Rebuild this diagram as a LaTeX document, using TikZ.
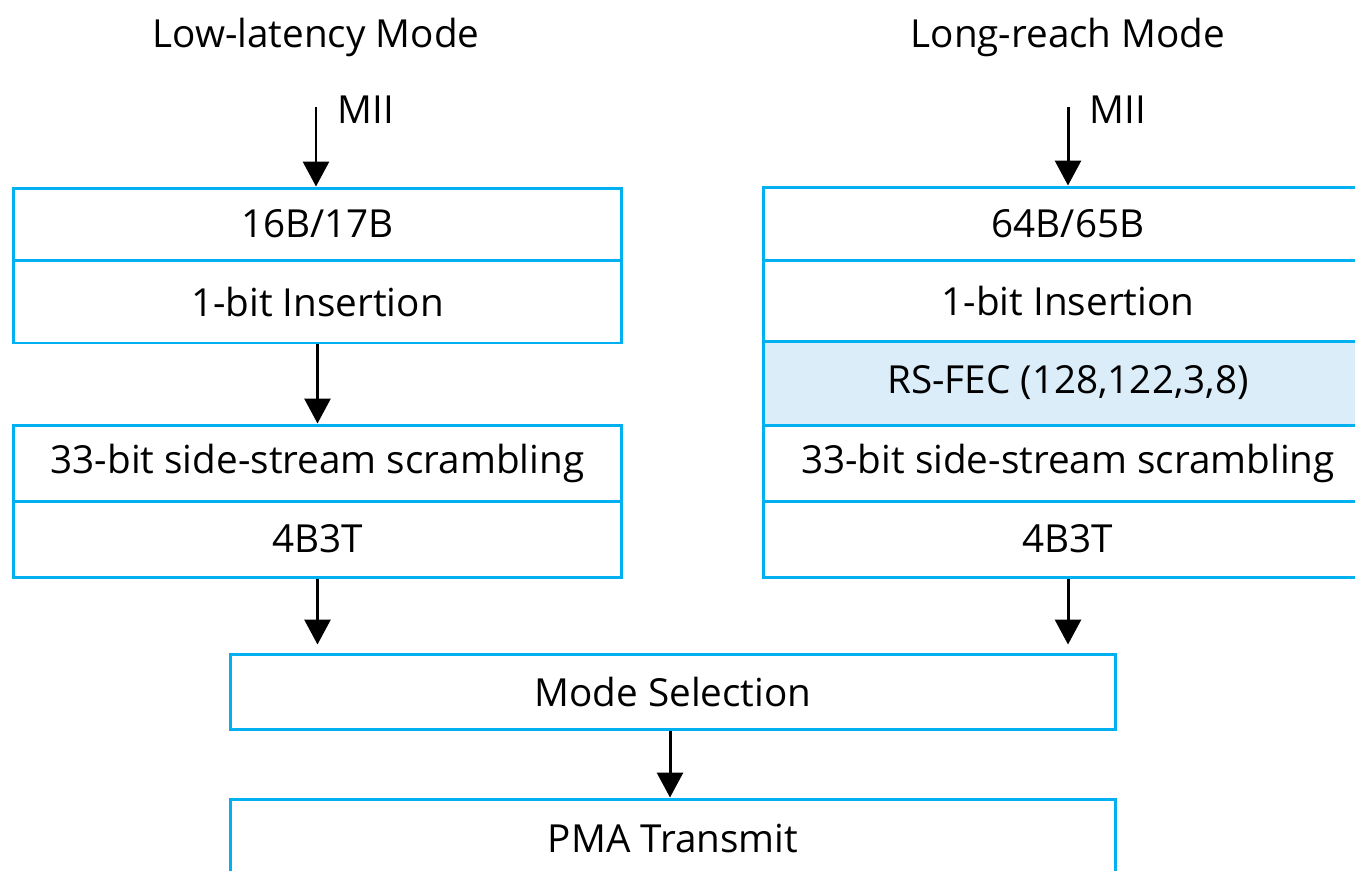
\documentclass[tikz,border=0pt]{standalone}
\usepackage{fontspec}
\setmainfont{Open Sans}
\usetikzlibrary{arrows.meta, positioning}
\definecolor{blkline}{HTML}{00B0F0}
\definecolor{fecfill}{HTML}{DAEDF8}
\tikzset{blk/.style={rectangle, draw=blkline, line width=1.7pt, inner sep=0pt, minimum width=12.18cm}}
\tikzset{lbl/.style={inner sep=0pt}}

\begin{document}
\begin{tikzpicture}[x=0.02cm, y=-0.02cm, >={Triangle[width=0.52cm, length=0.5cm]},
    font=\fontsize{22}{26}\selectfont]
    \useasboundingbox (0, 0) rectangle (1355, 870);
    \clip (0, 0) rectangle (1355, 870);

    % titles
    \node[lbl, anchor=base] (ltitle) at (316, 47) {Low-latency Mode};
    \node[lbl, anchor=base] (rtitle) at (1068, 47) {Long-reach Mode};

    % low-latency column
    \coordinate (lmii) at (316, 107);
    \node[lbl, anchor=base west] (lmiitxt) at (337, 123) {MII};
    \node[blk, minimum height=1.44cm] (lenc) at (317.5, 224) {16B/17B};
    \node[blk, minimum height=1.66cm] (lins) at (317.5, 301.5) {1-bit Insertion};
    \node[blk, minimum height=1.52cm] (lscr) at (317.5, 463) {33-bit side-stream scrambling};
    \node[blk, minimum height=1.52cm] (l4b) at (317.5, 539) {4B3T};

    % long-reach column
    \coordinate (rmii) at (1068, 107);
    \node[lbl, anchor=base west] (rmiitxt) at (1089, 123) {MII};
    \node[blk, minimum height=1.46cm] (renc) at (1068, 223.5) {64B/65B};
    \node[blk, minimum height=1.62cm] (rins) at (1068, 300.5) {1-bit Insertion};
    \node[blk, minimum height=1.68cm, fill=fecfill] (rfec) at (1068, 383) {RS-FEC (128,122,3,8)};
    \node[blk, minimum height=1.52cm] (rscr) at (1068, 463) {33-bit side-stream scrambling};
    \node[blk, minimum height=1.52cm] (r4b) at (1068, 539) {4B3T};

    % common part
    \node[blk, minimum width=17.72cm, minimum height=1.5cm] (msel) at (673, 691.5) {Mode Selection};
    \node[blk, minimum width=17.72cm, minimum height=1.56cm] (pma) at (673, 838) {PMA Transmit};

    \draw[->, line width=1.7pt] (lmii) -- (lmii |- lenc.north);
    \draw[->, line width=1.7pt] (rmii) -- (rmii |- renc.north);
    \draw[->, line width=1.7pt] (lins.south) -- (lscr.north);
    \draw[->, line width=1.7pt, shorten >=0.16cm] (l4b.south) -- (l4b.south |- msel.north);
    \draw[->, line width=1.7pt, shorten >=0.16cm] (r4b.south) -- (r4b.south |- msel.north);
    \draw[->, line width=1.7pt] (msel.south -| 670, 0) -- (pma.north -| 670, 0);
\end{tikzpicture}
\end{document}
